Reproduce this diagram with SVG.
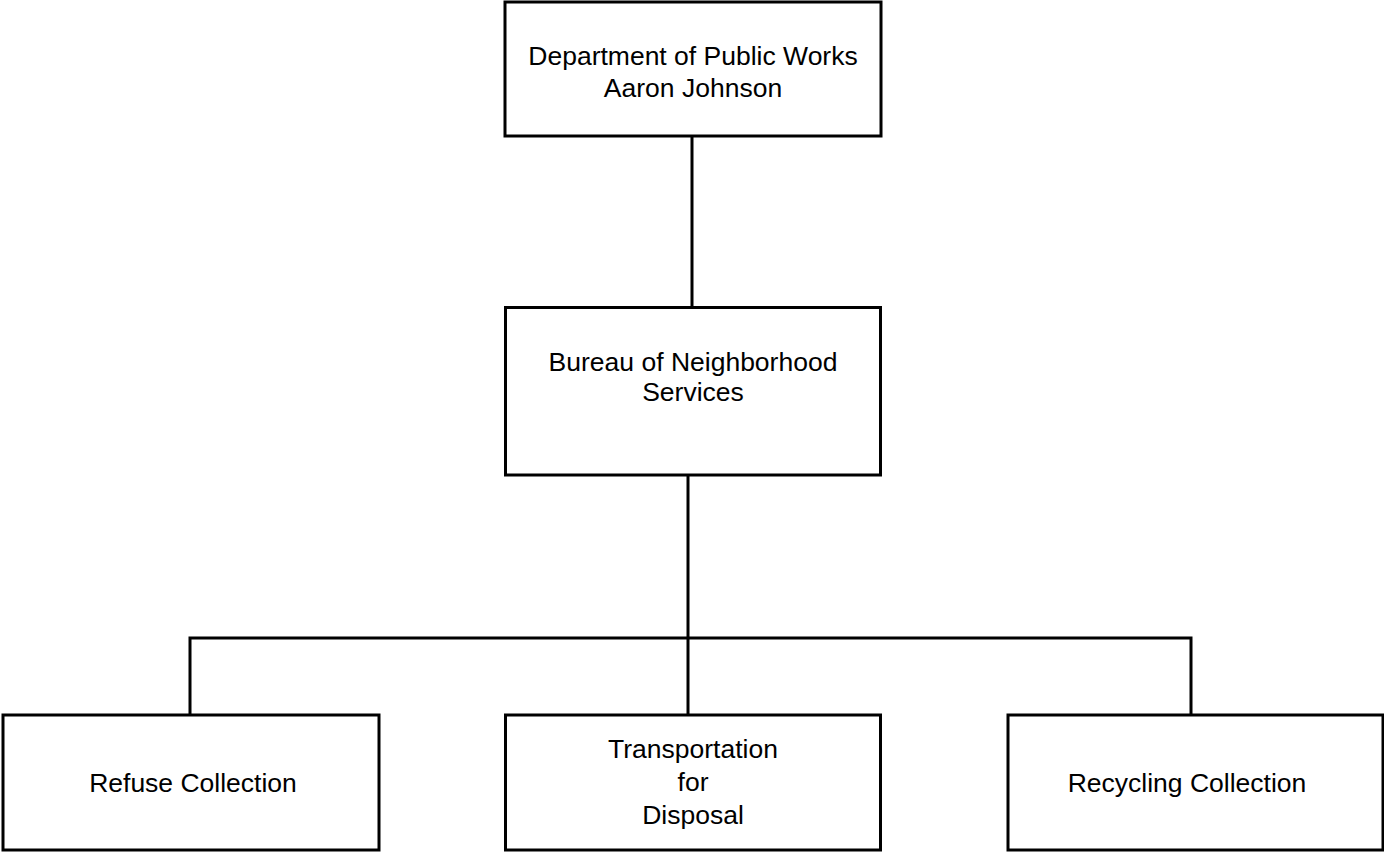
<svg xmlns="http://www.w3.org/2000/svg" width="1384" height="852" viewBox="0 0 1384 852">
<style>
.box{fill:#fff;stroke:#000;stroke-width:3}
.ln{stroke:#000;stroke-width:3;fill:none}
text{font-family:"Liberation Sans",Arial,sans-serif;font-size:26.5px;fill:#000;text-anchor:middle}
</style>
<rect width="1384" height="852" fill="#fff"/>
<g id="connectors">
<line class="ln" x1="692" y1="136" x2="692" y2="307"/>
<line class="ln" x1="688" y1="475" x2="688" y2="715"/>
<polyline class="ln" points="190,715 190,638 1191,638 1191,715"/>
</g>
<g id="dpw">
<rect class="box" x="505" y="2" width="376" height="134"/>
<text x="693" y="65">Department of Public Works</text>
<text x="693" y="97">Aaron Johnson</text>
</g>
<g id="bns">
<rect class="box" x="505.5" y="307.5" width="375" height="167.5"/>
<text x="693" y="371">Bureau of Neighborhood</text>
<text x="693" y="401">Services</text>
</g>
<g id="refuse">
<rect class="box" x="3" y="715" width="376" height="135"/>
<text x="193" y="792">Refuse Collection</text>
</g>
<g id="transport">
<rect class="box" x="505.5" y="715" width="375" height="135"/>
<text x="693" y="758">Transportation</text>
<text x="693" y="791">for</text>
<text x="693" y="824">Disposal</text>
</g>
<g id="recycling">
<rect class="box" x="1008" y="715" width="375" height="135"/>
<text x="1187" y="792">Recycling Collection</text>
</g>
</svg>
